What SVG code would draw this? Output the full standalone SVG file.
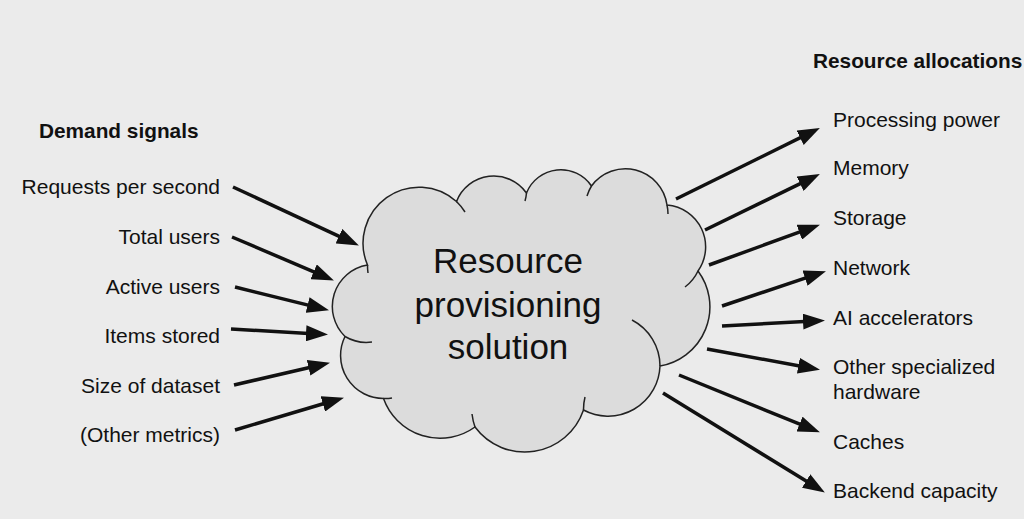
<svg xmlns="http://www.w3.org/2000/svg" width="1024" height="519" viewBox="0 0 1024 519">
<style>
.t{font-family:"Liberation Sans",Arial,sans-serif;font-size:21px;fill:#111}
.h{font-family:"Liberation Sans",Arial,sans-serif;font-size:20.8px;font-weight:bold;fill:#111}
.c{font-family:"Liberation Sans",Arial,sans-serif;font-size:35px;fill:#111;text-anchor:middle}
.l{text-anchor:end}
.a{stroke:#111;stroke-width:3.5;fill:none;marker-end:url(#ah)}
.cl{fill:#dcdcdc;stroke:#222;stroke-width:1.5}
.tl{fill:none;stroke:#222;stroke-width:1.5}
</style>
<defs>
<marker id="ah" markerUnits="userSpaceOnUse" markerWidth="22" markerHeight="16" refX="11" refY="8" orient="auto">
<path d="M0,0 L22,8 L0,16 Z" fill="#111"/>
</marker>
</defs>
<rect width="1024" height="519" fill="#ebebeb"/>
<g id="cloud">
<path class="cl" d="M367.5,265 A56,56 0 0 1 456.5,201.5 A40,40 0 0 1 526.5,193 A37,37 0 0 1 591.5,186 A42,42 0 0 1 667,205 A42,42 0 0 1 698,271 A60,60 0 0 1 660,366 A52,52 0 0 1 583.5,410 A62,62 0 0 1 475,427 A60,60 0 0 1 383.5,398.5 A43,43 0 0 1 345,336.5 A42,42 0 0 1 367.5,265 Z"/>
<path class="tl" d="M456.5,201.5 A56,56 0 0 1 465,212 M367.5,265 A56,56 0 0 0 368,273 M526.5,193 A40,40 0 0 1 525,201 M591.5,186 A42,42 0 0 0 587,196 M667,205 A42,42 0 0 1 668,214 M698,271 A42,42 0 0 1 685,287 M660,366 A52,52 0 0 0 632,320 M583.5,410 A52,52 0 0 1 585,397 M475,427 A62,62 0 0 1 472,414 M383.5,398.5 A43,43 0 0 0 392,398 M345,336.5 A42,42 0 0 0 372,342"/>
<text class="c" x="508" y="273">Resource</text>
<text class="c" x="508" y="316.5">provisioning</text>
<text class="c" x="508" y="359">solution</text>
</g>
<g id="demand-signals">
<text class="h" x="39" y="138">Demand signals</text>
<g id="in-requests"><text class="t l" x="220" y="194">Requests per second</text></g>
<g id="in-total-users"><text class="t l" x="220" y="243.5">Total users</text></g>
<g id="in-active-users"><text class="t l" x="220" y="293.5">Active users</text></g>
<g id="in-items-stored"><text class="t l" x="220" y="343">Items stored</text></g>
<g id="in-dataset"><text class="t l" x="220" y="392.5">Size of dataset</text></g>
<g id="in-other"><text class="t l" x="220" y="442">(Other metrics)</text></g>
</g>
<g id="resource-allocations">
<text class="h" x="813" y="68">Resource allocations</text>
<g id="out-processing"><text class="t" x="833" y="126.5">Processing power</text></g>
<g id="out-memory"><text class="t" x="833" y="175">Memory</text></g>
<g id="out-storage"><text class="t" x="833" y="225">Storage</text></g>
<g id="out-network"><text class="t" x="833" y="275">Network</text></g>
<g id="out-ai"><text class="t" x="833" y="325">AI accelerators</text></g>
<g id="out-special"><text class="t" x="833" y="374">Other specialized</text><text class="t" x="833" y="398.5">hardware</text></g>
<g id="out-caches"><text class="t" x="833" y="449">Caches</text></g>
<g id="out-backend"><text class="t" x="833" y="498">Backend capacity</text></g>
</g>
<g id="connectors">
<path class="a" d="M233,187 L348.9,240.8"/>
<path class="a" d="M232,237 L323.8,276.1"/>
<path class="a" d="M235,287 L318.3,307.6"/>
<path class="a" d="M231,329 L317,333.9"/>
<path class="a" d="M234,385 L319.3,365.3"/>
<path class="a" d="M235,430 L333.4,400.8"/>
<path class="a" d="M676,199 L810,132.9"/>
<path class="a" d="M705,230 L810,178.9"/>
<path class="a" d="M709,265 L809.6,228.4"/>
<path class="a" d="M722,306 L815.5,274.7"/>
<path class="a" d="M722,326 L814,321"/>
<path class="a" d="M707,349 L809.2,367.7"/>
<path class="a" d="M679,375 L809.7,428.2"/>
<path class="a" d="M663,393 L815.5,486.8"/>
</g>
</svg>
